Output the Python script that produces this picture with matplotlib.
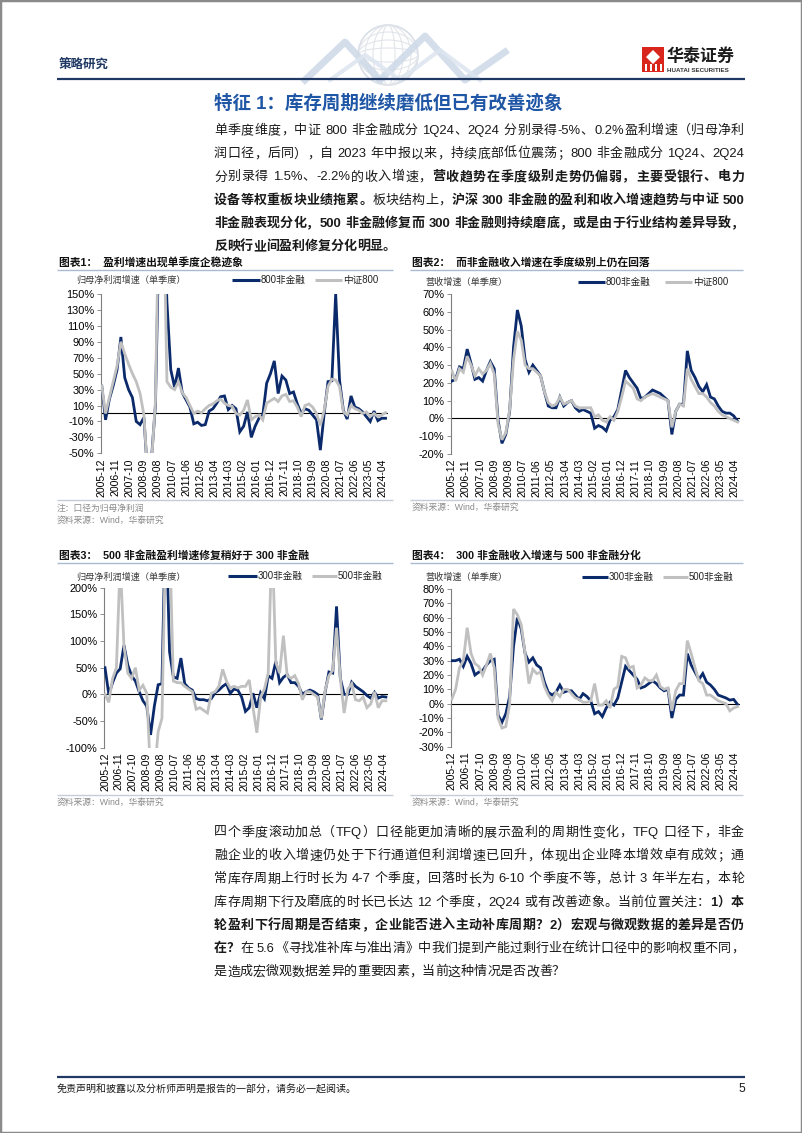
import warnings
warnings.filterwarnings("ignore")
import numpy as np
import pandas as pd
import matplotlib
matplotlib.use("Agg")
import matplotlib.pyplot as plt
from matplotlib.lines import Line2D
from matplotlib.patches import Rectangle, Polygon, Ellipse

# ---------------- data ----------------
quarters = pd.date_range("2005-12-01", periods=75, freq="3MS")
tick_dates = pd.date_range("2005-12-01", periods=21, freq="11MS")
tick_labels = [d.strftime("%Y-%m") for d in tick_dates]

profit_800_nonfin = [35, -8, 18, 35, 55, 96, 45, 30, 20, -10, -14, -5, -80, -55, 10, 240, 300, 140, 55, 33,
                     57, 26, 17, 8, -13, -11, -15, -14, 3, 6, 13, 21, 22, 5, 10, 6, -23, -16, 2, -30,
                     -16, -6, -2, 38, 50, 66, 25, 47, 42, 25, 27, 12, 0, 6, 4, -2, -8, -46, 0, 40,
                     41, 150, 42, 4, -7, 22, 8, 6, 2, -4, -10, 3, -9, -6, -6]
profit_csi800 = [35, 0, 20, 40, 60, 90, 75, 62, 50, 40, 25, -2, -80, -60, 15, 300, 300, 40, 33, 30,
                 40, 26, 20, 10, 0, 3, 1, 6, 10, 12, 16, 18, 13, 10, 9, 0, -2, 4, 17, -8,
                 -4, -2, -8, 13, 16, 19, 15, 22, 24, 15, 16, 8, -4, 10, 12, 8, 0, -15, 4, 34,
                 43, 42, 34, 2, -2, 10, 6, 4, 0, 2, -4, 0, -4, -2, 1]

rev_800_nonfin = [21, 22, 29, 28, 39, 31, 22, 23, 21, 27, 32, 28, -1, -14, -9, 4, 40, 61, 52, 33,
                  26, 30, 27, 24, 15, 7, 6, 6, 12, 7, 9, 10, 6, 4, 5, 4, 3, -5.5, -4, -5,
                  -7, -1, 1, 5, 16, 27, 23, 20, 17, 11, 12, 14, 16, 15, 14, 12, 10, -9, 4, 8,
                  8, 38, 27, 23, 18, 15, 19, 12, 11, 7, 4, 3, 3, 1.5, -1.5]
rev_csi800 = [27, 21, 28, 26, 35, 30, 24, 28, 25, 27, 31, 25, -3, -12, -8, 5, 33, 49, 44, 30,
              28, 28, 26, 24, 15, 9, 7, 8, 12, 8, 9, 10, 7, 6, 6, 6, 6, 1, 2, -1,
              -2, 1, -1, 4, 12, 21, 19, 17, 11, 10, 12, 13, 14, 13, 12, 11, 10, -5, 4, 8,
              7, 28, 22, 18, 14, 14, 12, 9, 7, 4, 2, 1, 0, -1, -2]

profit_300_nonfin = [50, 0, 22, 40, 48, 92, 55, 35, 25, 5, -12, -22, -76, -22, 18, 20, 350, 80, 33, 30,
                     68, 20, 12, 8, -8, -10, -10, -12, -8, 3, 8, 15, 20, 2, 10, 8, -5, -32, -25, 2,
                     -25, 3, -8, 35, 30, 62, 22, 32, 37, 22, 22, 15, 0, 5, 8, 5, 0, -47, 5, 42,
                     40, 165, 30, 0, 0, 23, 15, 10, 5, -2, -7, 4, -7, -4, -5]
profit_500_nonfin = [0, -15, 30, 50, 250, 90, 40, 30, 50, 8, 17, 2, -150, -150, -70, -45, 300, 300, 25, 22,
                     22, 15, 10, 5, -28, -25, -30, -35, 2, 5, 15, 47, 25, 12, 15, 12, 15, 15, 27, -25,
                     -72, -5, 10, 40, 300, 60, 40, 110, 35, 30, 35, 20, -10, 5, 5, 0, -5, -45, 8, 35,
                     45, 125, 30, -35, 10, 20, -10, -12, -5, -25, -18, 5, -25, -12, -12]

rev_300_nonfin = [30, 30, 31, 26, 33, 28, 20, 22, 23, 27, 30, 31, -8, -13, -7, 5, 40, 60, 52, 35,
                  29, 32, 27, 25, 15, 8, 6, 8, 13, 8, 9, 9, 6, 3, 7, 5, 2, -7, -5.5, -9,
                  -3, 1, -1, 4, 15, 26, 23, 20, 17, 11, 12, 14, 16, 14, 11, 9, 10, -10, 3, 6,
                  6, 35, 27, 22, 17, 21, 15, 13, 10, 6, 5, 4, 2.5, 3, -0.5]
rev_500_nonfin = [3, 10, 25, 30, 53, 35, 28, 26, 20, 27, 35, 25, -10, -17, -16, 0, 66, 62, 55, 35,
                  14, 24, 21, 22, 12, 6, 2, 8, 5, 10, 10, 7, 4, 3, 1, 1, 2, 14, -1, -1,
                  2, -3, 10, 12, 33, 32, 25, 26, 11, 13, 18, 16, 16, 20, 12, 10, 11, -5, 9, 14,
                  14, 44, 35, 25, 16, 14, 6, 6, 4, 2, 1, 0, -5, -3, -2]

# ---------------- figure ----------------
W, H = 802, 1133
fig = plt.figure(figsize=(W / 100, H / 100), dpi=100)
FAM = ["Liberation Sans", "Noto Sans CJK SC"]
plt.rcParams["font.family"] = FAM
renderer = fig.canvas.get_renderer()

NAVY = "#0b2a6b"
GRAY = "#c0c0c0"
HDR = "#1f3864"


def fx(x):
    return x / W


def fy(y):
    return 1 - y / H


def ftext(x, y, s, px, **kw):
    kw.setdefault("va", "center")
    return fig.text(fx(x), fy(y), s, fontsize=px * 0.72, **kw)


def hline(x0, x1, y, color, lw):
    fig.add_artist(Line2D([fx(x0), fx(x1)], [fy(y), fy(y)], color=color, lw=lw,
                          solid_capstyle="butt"))


def tokens(s):
    out, buf = [], ""
    for ch in s:
        if ord(ch) < 128 and ch != " ":
            buf += ch
        else:
            if buf:
                out.append(buf)
                buf = ""
            out.append(ch)
    if buf:
        out.append(buf)
    return out


def draw_line(segments, x0, x1, y, px, justify=True, color="#1a1a1a"):
    items = []
    for s, bold in segments:
        for t in tokens(s):
            if t == " ":
                items.append((None, px * 0.28))
            else:
                tt = fig.text(0, 0, t, fontsize=px * 0.72, color=color, va="center", ha="left",
                              fontweight="bold" if bold else "normal")
                w = tt.get_window_extent(renderer).width
                items.append((tt, w))
    total = sum(w for _, w in items)
    n = len(items)
    gap = (x1 - x0 - total) / (n - 1) if (justify and n > 1) else 0.0
    x = x0
    for tt, w in items:
        if tt is not None:
            tt.set_position((fx(x), fy(y)))
        x += w + gap


# page border
fig.add_artist(Rectangle((0, 0), 1, 1, transform=fig.transFigure, fill=False,
                         edgecolor="#8a8a8a", lw=2.5))

# header decoration (faint triangles and globe)
tri_pts = [(305, 80), (345, 42), (380, 80), (425, 36), (465, 80), (505, 52)]
fig.add_artist(Line2D([fx(p[0]) for p in tri_pts], [fy(p[1]) for p in tri_pts],
                      color="#cdd9e8", lw=5, alpha=0.85))
tri_pts2 = [(330, 80), (365, 55), (400, 80), (440, 50), (480, 80)]
fig.add_artist(Line2D([fx(p[0]) for p in tri_pts2], [fy(p[1]) for p in tri_pts2],
                      color="#dde5ef", lw=3, alpha=0.85))
fig.add_artist(Ellipse((fx(388), fy(55)), 60 / W, 60 / H, transform=fig.transFigure, fill=False,
                       edgecolor="#d8dee6", lw=1.2))
for k in range(3):
    fig.add_artist(Ellipse((fx(388), fy(55)), (14 + 16 * k) / W, 60 / H,
                           transform=fig.transFigure, fill=False, edgecolor="#e1e5ea", lw=0.8))
for k in range(3):
    fig.add_artist(Ellipse((fx(388), fy(55)), 60 / W, (14 + 16 * k) / H,
                           transform=fig.transFigure, fill=False, edgecolor="#e1e5ea", lw=0.8))

# header text & logo
ftext(59, 65, "策略研究", 12.5, color=HDR, fontweight="bold")
hline(57, 745, 79, HDR, 1.6)
fig.add_artist(Rectangle((fx(642), fy(72)), 22 / W, 25 / H, transform=fig.transFigure,
                         facecolor="#d9261c", edgecolor="none"))
fig.add_artist(Polygon([(fx(653), fy(50)), (fx(660), fy(57)), (fx(653), fy(64)), (fx(646), fy(57))],
                       closed=True, transform=fig.transFigure, facecolor="white", edgecolor="none"))
for bx in (645, 650, 655, 660):
    fig.add_artist(Rectangle((fx(bx), fy(71)), 1.6 / W, 7 / H, transform=fig.transFigure,
                             facecolor="white", edgecolor="none"))
ftext(667, 56, "华泰证券", 17, color="#1a1a1a", fontweight="bold")
ftext(667, 70, "HUATAI SECURITIES", 6.3, color="#333333", fontweight="bold")

# section title
ftext(214, 103, "特征 1：库存周期继续磨低但已有改善迹象", 18.5, color="#1f56a5", fontweight="bold")

# paragraph 1
BX0, BX1, BPX, LSP = 214, 744, 13, 23.2
p1 = [
    ([("单季度维度，中证 800 非金融成分 1Q24、2Q24 分别录得-5%、0.2%盈利增速（归母净利", False)], True),
    ([("润口径，后同），自 2023 年中报以来，持续底部低位震荡；800 非金融成分 1Q24、2Q24", False)], True),
    ([("分别录得 1.5%、-2.2%的收入增速，", False), ("营收趋势在季度级别走势仍偏弱，主要受银行、电力", True)], True),
    ([("设备等权重板块业绩拖累。", True), ("板块结构上，", False), ("沪深 300 非金融的盈利和收入增速趋势与中证 500", True)], True),
    ([("非金融表现分化，500 非金融修复而 300 非金融则持续磨底，或是由于行业结构差异导致，", True)], True),
    ([("反映行业间盈利修复分化明显。", True)], False),
]
for i, (segs, just) in enumerate(p1):
    draw_line(segs, BX0, BX1, 131 + LSP * i, BPX, justify=just)

p2 = [
    ([("四个季度滚动加总（TFQ）口径能更加清晰的展示盈利的周期性变化，TFQ 口径下，非金", False)], True),
    ([("融企业的收入增速仍处于下行通道但利润增速已回升，体现出企业降本增效卓有成效；通", False)], True),
    ([("常库存周期上行时长为 4-7 个季度，回落时长为 6-10 个季度不等，总计 3 年半左右，本轮", False)], True),
    ([("库存周期下行及磨底的时长已长达 12 个季度，2Q24 或有改善迹象。当前位置关注：", False), ("1）本", True)], True),
    ([("轮盈利下行周期是否结束，企业能否进入主动补库周期？2）宏观与微观数据的差异是否仍", True)], True),
    ([("在？", True), ("在 5.6《寻找准补库与准出清》中我们提到产能过剩行业在统计口径中的影响权重不同，", False)], True),
    ([("是造成宏微观数据差异的重要因素，当前这种情况是否改善？", False)], False),
]
for i, (segs, just) in enumerate(p2):
    draw_line(segs, BX0, BX1, 833 + LSP * i, BPX, justify=just)

# footer
hline(57, 745, 1077, HDR, 1.6)
ftext(57, 1090, "免责声明和披露以及分析师声明是报告的一部分，请务必一起阅读。", 10, color="#1a1a1a")
ftext(745, 1089, "5", 12, color="#1a1a1a", ha="right")

# ---------------- charts ----------------
xm = np.array((quarters.year - 2005) * 12 + quarters.month - 12, dtype=float)
tick_m = np.array((tick_dates.year - 2005) * 12 + tick_dates.month - 12, dtype=float)
XL = (-0.8, 224.0)


def chart(ax_px, ylim, ystep, s_dark, s_gray, title, title_xy, rule_x, ylabel, ylabel_xy,
          leg, leg_y, bottom_y, notes):
    x_left, x_right, y_top, y_bot = ax_px
    ax = fig.add_axes([fx(x_left), fy(y_bot), (x_right - x_left) / W, (y_bot - y_top) / H])
    ax.plot(xm, s_dark, color=NAVY, lw=2.0, solid_joinstyle="miter", zorder=3)
    ax.plot(xm, s_gray, color=GRAY, lw=2.0, solid_joinstyle="miter", zorder=4)
    ax.axhline(0, color="black", lw=0.8, zorder=2)
    ax.set_xlim(*XL)
    ax.set_ylim(*ylim)
    yt = np.arange(ylim[0], ylim[1] + 0.1, ystep)
    ax.set_yticks(yt)
    ax.set_yticklabels([f"{int(v)}%" for v in yt], fontsize=7.9)
    ax.set_xticks(tick_m)
    ax.set_xticklabels(tick_labels, rotation=90, fontsize=7.6)
    ax.tick_params(axis="x", length=0, pad=3.5)
    ax.tick_params(axis="y", length=3, width=0.6, color="#7f7f7f", pad=1.5)
    for side in ("top", "right", "bottom"):
        ax.spines[side].set_visible(False)
    ax.spines["left"].set_color("#7f7f7f")
    ax.spines["left"].set_linewidth(0.8)
    ax.patch.set_alpha(0)
    # title + rules
    ftext(title_xy[0], title_xy[1], title, 10.8, color="#111111", fontweight="bold")
    hline(rule_x[0], rule_x[1], title_xy[1] + 7.5, "#a9bbd0", 1.0)
    hline(rule_x[0], rule_x[1], bottom_y, "#c3ccd8", 1.0)
    ftext(ylabel_xy[0], ylabel_xy[1], ylabel, 9.2, color="#3a3a3a")
    (d0, d1, dt, g0, g1, gt), (ld, lg) = leg
    hline(d0, d1, leg_y, NAVY, 2.2)
    ftext(dt, leg_y, ld, 9.6, color="#222222")
    hline(g0, g1, leg_y, GRAY, 2.2)
    ftext(gt, leg_y, lg, 9.6, color="#222222")
    for (nx, ny, ns) in notes:
        ftext(nx, ny, ns, 8.8, color="#8a8a8a")
    return ax


chart((100.7, 388.1, 294, 453.3), (-50, 150), 20, profit_800_nonfin, profit_csi800,
      "图表1：  盈利增速出现单季度企稳迹象", (59, 262), (57, 393),
      "归母净利润增速（单季度）", (76, 280),
      ((232, 260, 261, 315, 342, 343), ("800非金融", "中证800")), 280, 500,
      [(57, 508, "注：口径为归母净利润"), (57, 520, "资料来源：Wind，华泰研究")])

chart((450.7, 740.1, 294, 454), (-20, 70), 10, rev_800_nonfin, rev_csi800,
      "图表2：  而非金融收入增速在季度级别上仍在回落", (412, 262), (410, 743),
      "营收增速（单季度）", (425, 282),
      ((578, 605, 606, 665, 692, 693), ("800非金融", "中证800")), 282, 500,
      [(412, 507, "资料来源：Wind，华泰研究")])

chart((104.0, 388.4, 587.7, 747.7), (-100, 200), 50, profit_300_nonfin, profit_500_nonfin,
      "图表3：  500 非金融盈利增速修复稍好于 300 非金融", (59, 555), (57, 393),
      "归母净利润增速（单季度）", (76, 577),
      ((228, 257, 258, 312, 337, 338), ("300非金融", "500非金融")), 576, 795,
      [(57, 802, "资料来源：Wind，华泰研究")])

chart((450.7, 740.1, 589, 746.7), (-30, 80), 10, rev_300_nonfin, rev_500_nonfin,
      "图表4：  300 非金融收入增速与 500 非金融分化", (412, 555), (410, 743),
      "营收增速（单季度）", (425, 577),
      ((582, 608, 609, 663, 688, 689), ("300非金融", "500非金融")), 577, 795,
      [(412, 802, "资料来源：Wind，华泰研究")])

fig.savefig("out.png", dpi=100)
